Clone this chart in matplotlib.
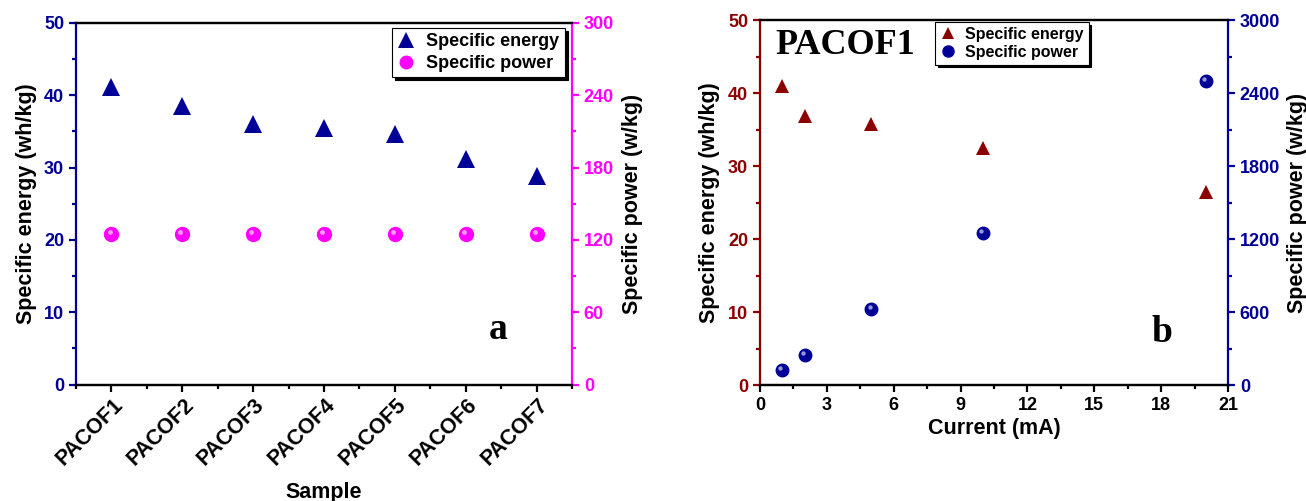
import matplotlib.pyplot as plt
import matplotlib.transforms as mtransforms
from matplotlib.ticker import MultipleLocator

# panel a data
samples = ["PACOF1", "PACOF2", "PACOF3", "PACOF4", "PACOF5", "PACOF6", "PACOF7"]
energy_a = [41.1, 38.5, 36.0, 35.4, 34.6, 31.2, 28.9]
power_a = [125, 125, 125, 125, 125, 125, 125]

# panel b data (PACOF1 at different currents)
current = [1, 2, 5, 10, 20]
energy_b = [41.0, 36.8, 35.8, 32.5, 26.4]
power_b = [125, 250, 625, 1250, 2500]

NAVY = "#000096"
MAGENTA = "#ff00ff"
DARKRED = "#8b0000"

plt.rcParams['font.family'] = ['Liberation Sans', 'DejaVu Sans']
plt.rcParams['font.weight'] = 'bold'
plt.rcParams['axes.labelweight'] = 'bold'

fig = plt.figure(figsize=(13.06, 5.01), dpi=100)


def style_axes(ax, ax2, lcol, rcol):
    for a in (ax, ax2):
        for s in a.spines.values():
            s.set_linewidth(1.6)
    ax.spines['left'].set_color(lcol)
    ax2.spines['left'].set_visible(False)
    ax2.spines['right'].set_color(rcol)
    ax.spines['right'].set_visible(False)
    ax.tick_params(axis='y', which='both', direction='out', colors=lcol,
                   labelsize=13, width=1.6)
    ax.tick_params(axis='y', which='major', length=5)
    ax.tick_params(axis='y', which='minor', length=3)
    ax.tick_params(axis='x', which='both', direction='out', colors='black',
                   labelsize=13, width=1.6)
    ax.tick_params(axis='x', which='major', length=5)
    ax.tick_params(axis='x', which='minor', length=3)
    ax2.tick_params(axis='y', which='both', direction='out', colors=rcol,
                    labelsize=13, width=1.6)
    ax2.tick_params(axis='y', which='major', length=5)
    ax2.tick_params(axis='y', which='minor', length=3)
    for lab in ax.get_yticklabels() + ax2.get_yticklabels() + ax.get_xticklabels():
        lab.set_fontweight('bold')


def balls(ax, x, y, color, ms):
    ax.plot(x, y, 'o', color=color, ms=ms, mec=color, zorder=3)
    off = mtransforms.offset_copy(ax.transData, fig=fig, x=-1.3, y=1.3, units='points')
    ax.plot(x, y, 'o', color='white', ms=ms * 0.35, mew=0, alpha=0.6,
            transform=off, zorder=4)


# ---------------- panel a ----------------
axa = fig.add_axes([0.0582, 0.2325, 0.3798, 0.7218])
axa2 = axa.twinx()
xa = list(range(1, len(samples) + 1))
axa.plot(xa, energy_a, '^', color=NAVY, ms=12.5, mew=0)
balls(axa2, xa, power_a, MAGENTA, 10)
axa.set_xlim(0.5, 7.5)
axa.set_ylim(0, 50)
axa2.set_ylim(0, 300)
axa.set_xticks(xa)
axa.set_xticklabels(samples)
axa.xaxis.set_minor_locator(MultipleLocator(0.5))
axa.yaxis.set_major_locator(MultipleLocator(10))
axa.yaxis.set_minor_locator(MultipleLocator(5))
axa2.yaxis.set_major_locator(MultipleLocator(60))
axa2.yaxis.set_minor_locator(MultipleLocator(30))
style_axes(axa, axa2, NAVY, MAGENTA)
for lab in axa.get_xticklabels():
    lab.set_rotation(45)
    lab.set_ha('right')
    lab.set_va('center')
    lab.set_fontsize(15.5)
    lab.set_rotation_mode('anchor')
    lab.set_transform(lab.get_transform() + mtransforms.ScaledTranslation(6 / 72, -4 / 72, fig.dpi_scale_trans))
axa.set_xlabel('Sample', fontsize=15.5, labelpad=9)
axa.set_ylabel('Specific energy (wh/kg)', fontsize=15.5, labelpad=5)
axa2.set_ylabel('Specific power (w/kg)', fontsize=15.5, labelpad=6)
ha1 = axa.plot([], [], '^', color=NAVY, ms=11, mew=0)[0]
ha2 = axa.plot([], [], 'o', color=MAGENTA, ms=9)[0]
leg = axa2.legend([ha1, ha2], ['Specific energy', 'Specific power'],
                  loc='upper left', bbox_to_anchor=(0.637, 0.986), borderaxespad=0,
                  fancybox=False, shadow={'color': 'black', 'alpha': 1},
                  edgecolor='black', framealpha=1, handlelength=1.0,
                  handletextpad=0.6, borderpad=0.3, labelspacing=0.25,
                  prop={'weight': 'bold', 'size': 13})
leg.get_frame().set_linewidth(0.8)
axa.text(0.851, 0.151, 'a', transform=axa.transAxes, ha='center', va='center',
         fontsize=27, fontweight='bold', family=['Liberation Serif', 'DejaVu Serif'])

# ---------------- panel b ----------------
axb = fig.add_axes([0.5819, 0.2315, 0.3584, 0.7285])
axb2 = axb.twinx()
axb.plot(current, energy_b, '^', color=DARKRED, ms=10, mew=0)
balls(axb2, current, power_b, NAVY, 9)
axb.set_xlim(0, 21)
axb.set_ylim(0, 50)
axb2.set_ylim(0, 3000)
axb.xaxis.set_major_locator(MultipleLocator(3))
axb.xaxis.set_minor_locator(MultipleLocator(1.5))
axb.yaxis.set_major_locator(MultipleLocator(10))
axb.yaxis.set_minor_locator(MultipleLocator(5))
axb2.yaxis.set_major_locator(MultipleLocator(600))
axb2.yaxis.set_minor_locator(MultipleLocator(300))
style_axes(axb, axb2, DARKRED, NAVY)
axb.set_xlabel('Current (mA)', fontsize=15.5, labelpad=3)
axb.set_ylabel('Specific energy (wh/kg)', fontsize=15.5, labelpad=6)
axb2.set_ylabel('Specific power (w/kg)', fontsize=15.5, labelpad=5)
hb1 = axb.plot([], [], '^', color=DARKRED, ms=9, mew=0)[0]
hb2 = axb.plot([], [], 'o', color=NAVY, ms=8)[0]
legb = axb2.legend([hb1, hb2], ['Specific energy', 'Specific power'],
                   loc='upper left', bbox_to_anchor=(0.374, 0.995), borderaxespad=0,
                   fancybox=False, shadow={'color': 'black', 'alpha': 1},
                   edgecolor='black', framealpha=1, handlelength=1.0,
                   handletextpad=0.6, borderpad=0.3, labelspacing=0.2,
                   prop={'weight': 'bold', 'size': 11.5})
legb.get_frame().set_linewidth(0.8)
axb.text(0.032, 0.907, 'PACOF1', transform=axb.transAxes, ha='left', va='baseline',
         fontsize=26, fontweight='bold', family=['Liberation Serif', 'DejaVu Serif'])
axb.text(0.859, 0.145, 'b', transform=axb.transAxes, ha='center', va='center',
         fontsize=27, fontweight='bold', family=['Liberation Serif', 'DejaVu Serif'])

fig.savefig('out.png', dpi=100)
